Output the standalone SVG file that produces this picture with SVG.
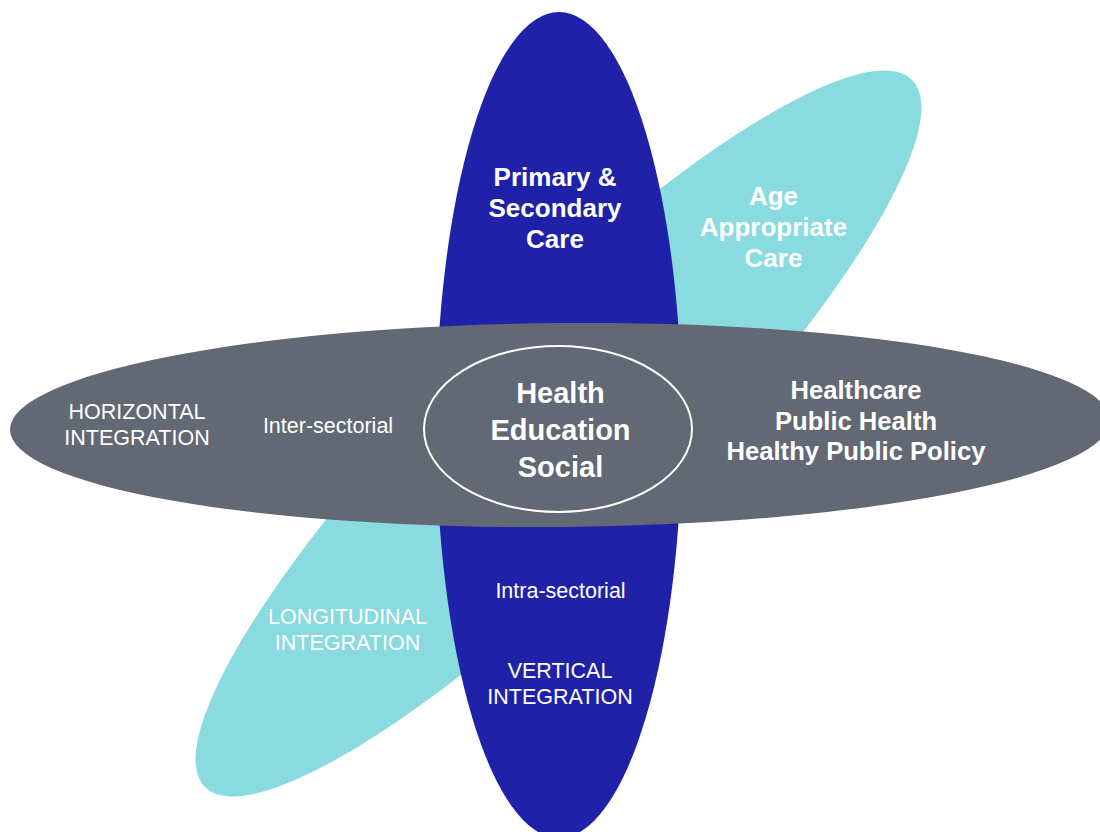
<svg xmlns="http://www.w3.org/2000/svg" width="1100" height="832" viewBox="0 0 1100 832">
  <style>
    .t { font-family: "Liberation Sans", Arial, Helvetica, sans-serif; fill: #ffffff; text-anchor: middle; }
    .b { font-weight: bold; }
    .r { font-weight: normal; font-size: 21.5px; }
  </style>
  <rect x="0" y="0" width="1100" height="832" fill="#ffffff"/>
  <g id="longitudinal">
    <ellipse cx="558.5" cy="433.5" rx="500" ry="116" fill="#89dbdf" transform="rotate(-45 558.5 433.5)"/>
  </g>
  <g id="vertical">
    <ellipse cx="559" cy="425" rx="123" ry="413" fill="#1f22a9"/>
  </g>
  <g id="horizontal">
    <ellipse cx="560" cy="425" rx="550" ry="102" fill="#626874" transform="rotate(-0.5 560 425)"/>
  </g>
  <g id="core">
    <ellipse cx="558" cy="429" rx="134" ry="83" fill="none" stroke="#ffffff" stroke-width="2"/>
    <text class="t b" font-size="29" x="560.5" y="403">Health</text>
    <text class="t b" font-size="29" x="560.5" y="440">Education</text>
    <text class="t b" font-size="29" x="560.5" y="476.5">Social</text>
  </g>
  <g id="primary-secondary">
    <text class="t b" font-size="26" x="555" y="185.5">Primary &amp;</text>
    <text class="t b" font-size="26" x="555" y="216.5">Secondary</text>
    <text class="t b" font-size="26" x="555" y="248">Care</text>
  </g>
  <g id="age-appropriate">
    <text class="t b" font-size="26" x="773.5" y="204.5">Age</text>
    <text class="t b" font-size="26" x="773.5" y="235.5">Appropriate</text>
    <text class="t b" font-size="26" x="773.5" y="266.5">Care</text>
  </g>
  <g id="health-sectors">
    <text class="t b" font-size="25.6" x="856" y="398.5">Healthcare</text>
    <text class="t b" font-size="25.6" x="856" y="429.5">Public Health</text>
    <text class="t b" font-size="25.6" x="856" y="460">Healthy Public Policy</text>
  </g>
  <g id="horizontal-label">
    <text class="t r" x="137" y="418.5">HORIZONTAL</text>
    <text class="t r" x="137" y="444.5">INTEGRATION</text>
    <text class="t r" x="328" y="433">Inter-sectorial</text>
  </g>
  <g id="longitudinal-label">
    <text class="t r" x="347.5" y="624">LONGITUDINAL</text>
    <text class="t r" x="347.5" y="650">INTEGRATION</text>
  </g>
  <g id="vertical-label">
    <text class="t r" x="560.5" y="597.5">Intra-sectorial</text>
    <text class="t r" x="560" y="677.5">VERTICAL</text>
    <text class="t r" x="560" y="703.5">INTEGRATION</text>
  </g>
  <g id="connectors"></g>
</svg>
